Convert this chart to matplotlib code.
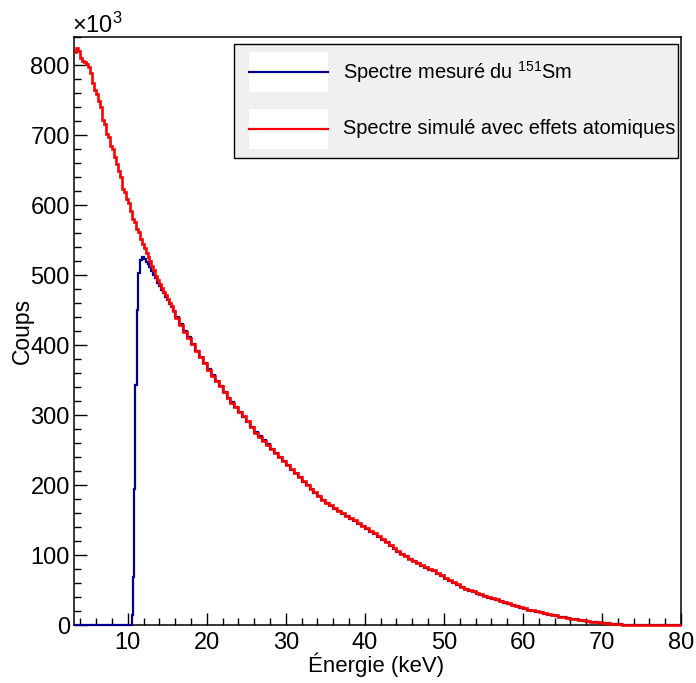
import numpy as np
import matplotlib
matplotlib.use('Agg')
import matplotlib.pyplot as plt
from matplotlib.patches import Rectangle
from matplotlib.lines import Line2D

plt.rcParams['font.family'] = ['Liberation Sans', 'DejaVu Sans']
plt.rcParams['mathtext.fontset'] = 'custom'
plt.rcParams['mathtext.rm'] = 'Liberation Sans'
plt.rcParams['mathtext.it'] = 'Liberation Sans'

# Spectre simulé (coups en milliers) : bins de 0.25 keV jusqu'à 16 keV, puis 0.5 keV
sim_edges = [3.2] + list(np.arange(3.5, 15.9, 0.25)) + list(np.arange(16.0, 80.01, 0.5))
sim_counts = [
    818,
    824, 820, 810, 806, 805, 802, 797, 789, 775, 764,
    758, 748, 740, 722, 716, 701, 697, 684, 680, 668,
    659, 648, 640, 623, 618, 609, 603, 592, 580, 575,
    566, 561, 551, 544, 538, 531, 525, 520, 513, 507,
    499, 493, 487, 481, 476, 471, 466, 460, 455, 449,
    439, 429, 419, 410,
    401, 392, 383, 374, 365, 356, 349, 341, 333, 325,
    317, 311, 305, 298, 291, 283, 275, 269, 263, 257,
    252, 246, 240, 235, 229, 223, 217, 212, 206, 200,
    195, 190, 184, 179, 175, 171, 167, 163, 160, 156,
    153, 150, 146, 142, 138, 134, 131, 127, 123, 119,
    114, 110, 106, 102, 99, 95, 92, 89, 86, 83,
    80, 78, 74, 71, 67, 64, 61, 58, 55, 52,
    50, 48, 46, 44, 42, 40, 38, 37, 35, 33,
    31, 29, 27, 26, 24, 22, 21, 20, 18, 17,
    16, 15, 14, 12, 11, 10, 9, 8, 7, 6.5,
    5.5, 5, 4.5, 4, 3, 2.5, 2, 1.5, 1, 0.6,
    0.3, 0.1,
    0, 0, 0, 0, 0, 0, 0, 0, 0, 0, 0, 0,
]

# Spectre mesuré du 151Sm (seuil vers 10.5 keV)
mes_edges = ([3.2, 10.5, 10.67, 10.8, 10.97, 11.2, 11.35, 11.55, 11.75]
             + list(np.arange(12.0, 15.9, 0.25)) + list(np.arange(16.0, 80.01, 0.5)))
mes_counts = [
    0, 14, 69, 195, 343, 450, 503, 522, 526,
    523, 519, 515, 511, 506, 500, 495, 489, 484, 479,
    474, 469, 464, 459, 454, 449,
    440, 430,
    420, 411, 401, 392, 383, 375, 366, 357, 349, 341,
    333, 325, 318, 311, 304, 297, 290, 283, 276, 270,
    264, 258, 252, 246, 240, 234, 228, 222, 217, 211,
    205, 200, 195, 189, 184, 179, 175, 170, 166, 163,
    159, 156, 152, 149, 145, 141, 137, 133, 130, 126,
    122, 118, 113, 109, 105, 101, 98, 94, 91, 88,
    85, 82, 79, 77, 73, 70, 66, 63, 60, 57,
    54, 52, 49, 47, 45, 43, 41, 39, 37, 36,
    34, 32, 30, 28, 27, 25, 23, 22, 20, 19,
    18, 16, 15, 14, 13, 12, 11, 10, 9, 8,
    7, 6, 5, 4.5, 4, 3.5, 3, 2.5, 2, 1.5,
    1, 0.6, 0.3, 0.1,
    0, 0, 0, 0, 0, 0, 0, 0, 0, 0, 0, 0,
]

W, H = 696, 683
fig = plt.figure(figsize=(W / 100, H / 100), dpi=100)
ax = fig.add_axes([74 / W, 1 - 625 / H, (681 - 74) / W, (625 - 37) / H])

blue = '#00008f'
red = '#ff0000'
ax.stairs(mes_counts, mes_edges, color=blue, lw=1.6, baseline=None, clip_on=False, zorder=3)
ax.stairs(sim_counts, sim_edges, color=red, lw=1.9, baseline=None, clip_on=False, zorder=4)

ax.set_xlim(3.2, 80)
ax.set_ylim(0, 840)
ax.set_xticks(range(10, 81, 10))
ax.set_xticks(range(4, 81, 2), minor=True)
ax.set_yticks(range(0, 801, 100))
ax.set_yticks(range(0, 841, 20), minor=True)
ax.tick_params(which='both', direction='in', top=False, right=False, labelsize=17, width=1)
ax.tick_params(which='major', length=9, pad=3)
ax.tick_params(which='minor', length=5)
ax.tick_params(axis='x', pad=5)
for s in ax.spines.values():
    s.set_linewidth(1.1)

def px(x, y):
    return x / W, 1 - y / H

fig.text(*px(376, 672), 'Énergie (keV)', fontsize=16, ha='center', va='baseline')
fig.text(*px(22, 331), 'Coups', fontsize=16.5, rotation=90, ha='center', va='center')
fig.text(*px(72, 33), r'$\times$10$^{3}$', fontsize=17, ha='left', va='baseline')

# Légende façon ROOT
x0, y0 = px(234, 158)
fig.add_artist(Rectangle((x0, y0), (678 - 234) / W, (158 - 44) / H, transform=fig.transFigure,
                         facecolor='#f0f0f0', edgecolor='black', lw=1, zorder=5))
entries = [(72, blue, 'Spectre mesuré du $^{151}$Sm'), (129, red, 'Spectre simulé avec effets atomiques')]
for yc, col, lab in entries:
    rx, ry = px(249, yc + 20)
    fig.add_artist(Rectangle((rx, ry), (328 - 249) / W, 40 / H, transform=fig.transFigure,
                             facecolor='white', edgecolor='none', zorder=6))
    lx0, ly = px(249, yc)
    lx1, _ = px(328, yc)
    fig.add_artist(Line2D([lx0, lx1], [ly, ly], transform=fig.transFigure, color=col, lw=1.6, zorder=7))
    fig.text(*px(343, yc), lab, fontsize=14.4, va='center', ha='left', zorder=7)

fig.savefig('out.png', dpi=100)
